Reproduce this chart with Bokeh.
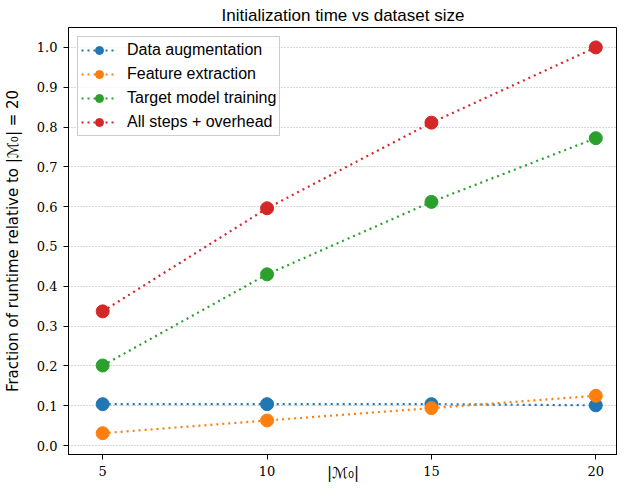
from bokeh.plotting import figure
from bokeh.models import Range1d, FixedTicker, Legend, LegendItem, PrintfTickFormatter
from bokeh.embed import file_html
from bokeh.resources import INLINE

x_sizes = [5, 10, 15, 20]
data_aug = [0.104, 0.104, 0.104, 0.101]
feat_ext = [0.031, 0.063, 0.094, 0.125]
target_train = [0.201, 0.430, 0.612, 0.772]
all_steps = [0.337, 0.596, 0.811, 1.0]
series_names = ["Data augmentation", "Feature extraction", "Target model training", "All steps + overhead"]
series_values = [data_aug, feat_ext, target_train, all_steps]
colors = ["#1f77b4", "#ff7f0e", "#2ca02c", "#d62728"]
x_ticks = [5, 10, 15, 20]
y_ticks = [0.0, 0.1, 0.2, 0.3, 0.4, 0.5, 0.6, 0.7, 0.8, 0.9, 1.0]

SANS = "Liberation Sans"
MATHSANS = "DejaVu Sans"
SERIF = "DejaVu Serif"

X0, X1 = 3.96, 20.66
Y0, Y1 = -0.0225, 1.05

p = figure(width=617, height=484, output_backend="svg", toolbar_location=None,
           x_range=Range1d(X0, X1), y_range=Range1d(Y0, Y1),
           title="Initialization time vs dataset size",
           min_border_left=10, min_border_right=0, min_border_top=0, min_border_bottom=0)

p.title.align = "center"
p.title.text_font = SANS
p.title.text_font_size = "17px"
p.title.text_font_style = "normal"
p.title.text_color = "black"
p.title.standoff = 6
p.title.offset = 0

p.outline_line_color = "black"
p.outline_line_width = 1
p.background_fill_color = "white"

p.xgrid.visible = False
p.ygrid.ticker = FixedTicker(ticks=y_ticks)
p.ygrid.grid_line_color = "#b0b0b0"
p.ygrid.grid_line_dash = "1 2"
p.ygrid.grid_line_width = 1

p.xaxis.ticker = FixedTicker(ticks=x_ticks)
p.yaxis.ticker = FixedTicker(ticks=y_ticks)
p.yaxis.formatter = PrintfTickFormatter(format="%.1f")
for ax in (p.xaxis, p.yaxis):
    ax.major_label_text_font = SERIF
    ax.major_label_text_font_size = "13px"
    ax.major_label_text_color = "black"
    ax.major_tick_out = 5
    ax.major_tick_in = 0
    ax.minor_tick_out = 0
    ax.minor_tick_in = 0
    ax.axis_line_color = "black"
    ax.major_tick_line_color = "black"
    ax.axis_label_text_font = MATHSANS
    ax.axis_label_text_font_size = "15px"
    ax.axis_label_text_font_style = "normal"
    ax.axis_label_text_color = "black"

p.xaxis.major_label_standoff = 6
p.yaxis.major_label_standoff = 6
p.xaxis.axis_label = "|\u2133\u2080|"
p.xaxis.axis_label_standoff = -15
p.yaxis.axis_label = "Fraction of runtime relative to |\u2133\u2080| = 20"
p.yaxis.axis_label_standoff = 12

items = []
for name, vals, col in zip(series_names, series_values, colors):
    r1 = p.line(x_sizes, vals, line_color=col, line_width=2.2, line_dash="2 4")
    r2 = p.scatter(x_sizes, vals, size=13, fill_color=col, line_color=col, marker="circle")
    items.append(LegendItem(label=name, renderers=[r1, r2]))

legend = Legend(items=items, location="top_left")
legend.label_text_font = SANS
legend.label_text_font_size = "16px"
legend.label_text_color = "black"
legend.glyph_width = 36
legend.glyph_height = 20
legend.label_standoff = 10
legend.spacing = 4
legend.padding = 3
legend.margin = 9
legend.border_line_color = "#cccccc"
legend.border_line_width = 1
legend.border_line_alpha = 1.0
legend.background_fill_alpha = 0.8
p.add_layout(legend)

open("out.html", "w").write(file_html(p, INLINE))
